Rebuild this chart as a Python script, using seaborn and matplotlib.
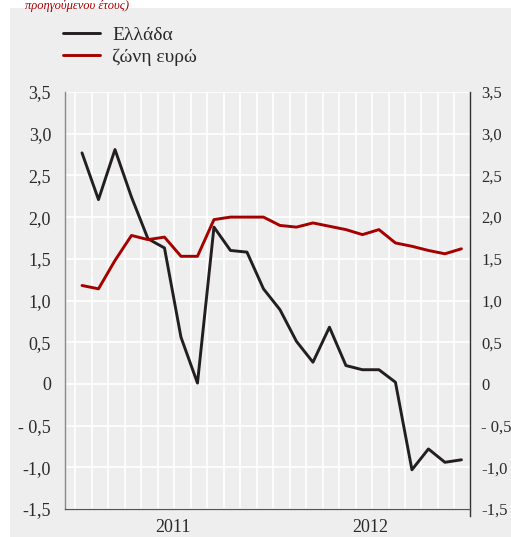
import numpy as np
import pandas as pd
import seaborn as sns
import matplotlib.pyplot as plt
from matplotlib.patches import Rectangle


MONTHS = list(range(24))
GREECE = [2.77, 2.21, 2.81, 2.24, 1.74, 1.63, 0.56, 0.01, 1.88, 1.60, 1.58, 1.14,
          0.89, 0.51, 0.26, 0.68, 0.22, 0.17, 0.17, 0.02, -1.03, -0.78, -0.94, -0.91]
EURO_AREA = [1.18, 1.14, 1.48, 1.78, 1.73, 1.76, 1.53, 1.53, 1.97, 2.00, 2.00, 2.00,
             1.90, 1.88, 1.93, 1.89, 1.85, 1.79, 1.85, 1.69, 1.65, 1.60, 1.56, 1.62]
SERIES_NAMES = ["Ελλάδα", "ζώνη ευρώ"]
YEARS = ["2011", "2012"]
Y_TICKS = [3.5, 3.0, 2.5, 2.0, 1.5, 1.0, 0.5, 0, -0.5, -1.0, -1.5]
Y_LABELS = ["3,5", "3,0", "2,5", "2,0", "1,5", "1,0", "0,5", "0", "- 0,5", "-1,0", "-1,5"]

BG = "#eeeeee"
TXT = "#2a2a2a"
COLORS = {"Ελλάδα": "#231f20", "ζώνη ευρώ": "#a50000"}


def main() -> None:
    df = pd.DataFrame({
        "month": MONTHS * 2,
        "value": GREECE + EURO_AREA,
        "series": [SERIES_NAMES[0]] * 24 + [SERIES_NAMES[1]] * 24,
    })

    sns.set_style("white")
    plt.rcParams["font.family"] = ["Liberation Serif", "DejaVu Serif"]

    fig = plt.figure(figsize=(5.11, 5.37), dpi=100, facecolor="white")
    fig.patches.append(Rectangle((10 / 511, 0), 1, (537 - 8) / 537,
                                 transform=fig.transFigure, facecolor=BG,
                                 edgecolor="none", zorder=-10))
    ax = fig.add_axes([65 / 511, 1 - 509 / 537, 405 / 511, 417 / 537])
    ax.set_facecolor(BG)

    sns.lineplot(data=df, x="month", y="value", hue="series", palette=COLORS,
                 linewidth=2.1, ax=ax, legend=True)

    ax.set_xlim(-1.03, 23.52)
    ax.set_ylim(-1.5, 3.5)

    # month ticks / vertical grid
    ax.set_xticks(np.arange(24) - 0.42)
    ax.set_xticks([5.5, 17.5], minor=True)
    ax.set_xticklabels([])
    ax.set_xticklabels(YEARS, minor=True)
    ax.tick_params(axis="x", which="major", direction="out", length=6,
                   width=0.9, color="#555555")
    ax.tick_params(axis="x", which="minor", length=0, pad=7.5, labelsize=13,
                   labelcolor=TXT)

    ax.set_yticks(Y_TICKS)
    ax.set_yticklabels(Y_LABELS)
    ax.tick_params(axis="y", length=0, labelsize=13, labelcolor=TXT, pad=10)

    ax.grid(True, color="white", linewidth=1.2)
    ax.set_axisbelow(True)

    # right-hand labels on a twin axis
    ax2 = ax.twinx()
    ax2.set_ylim(-1.5, 3.5)
    ax2.set_yticks(Y_TICKS)
    ax2.set_yticklabels(Y_LABELS)
    ax2.tick_params(axis="y", length=0, labelsize=12, labelcolor=TXT, pad=8)
    ax2.grid(False)
    for s in ax2.spines.values():
        s.set_visible(False)

    ax.spines["top"].set_visible(False)
    ax.spines["left"].set_color("#888888")
    ax.spines["left"].set_linewidth(1.0)
    ax.spines["right"].set_color("#333333")
    ax.spines["right"].set_linewidth(1.0)
    ax.spines["right"].set_bounds(-1.58, 3.5)
    ax.spines["bottom"].set_color("#555555")
    ax.spines["bottom"].set_linewidth(0.9)

    ax.set_xlabel("")
    ax.set_ylabel("")

    leg = ax.legend(loc="upper left", bbox_to_anchor=(45 / 511, 1 - 9 / 537),
                    bbox_transform=fig.transFigure, frameon=False, fontsize=14,
                    handlelength=1.95, handletextpad=0.6, labelspacing=0.2)
    for line in leg.get_lines():
        line.set_linewidth(2.1)
    for t in leg.get_texts():
        t.set_color(TXT)

    fig.text(25 / 511, 1 - 0.5 / 537, "προηγούμενου έτους)", color="#a50000",
             fontsize=9, style="italic", ha="left", va="top")

    fig.savefig("out.png", dpi=100, facecolor="white")


if __name__ == '__main__':
    main()
